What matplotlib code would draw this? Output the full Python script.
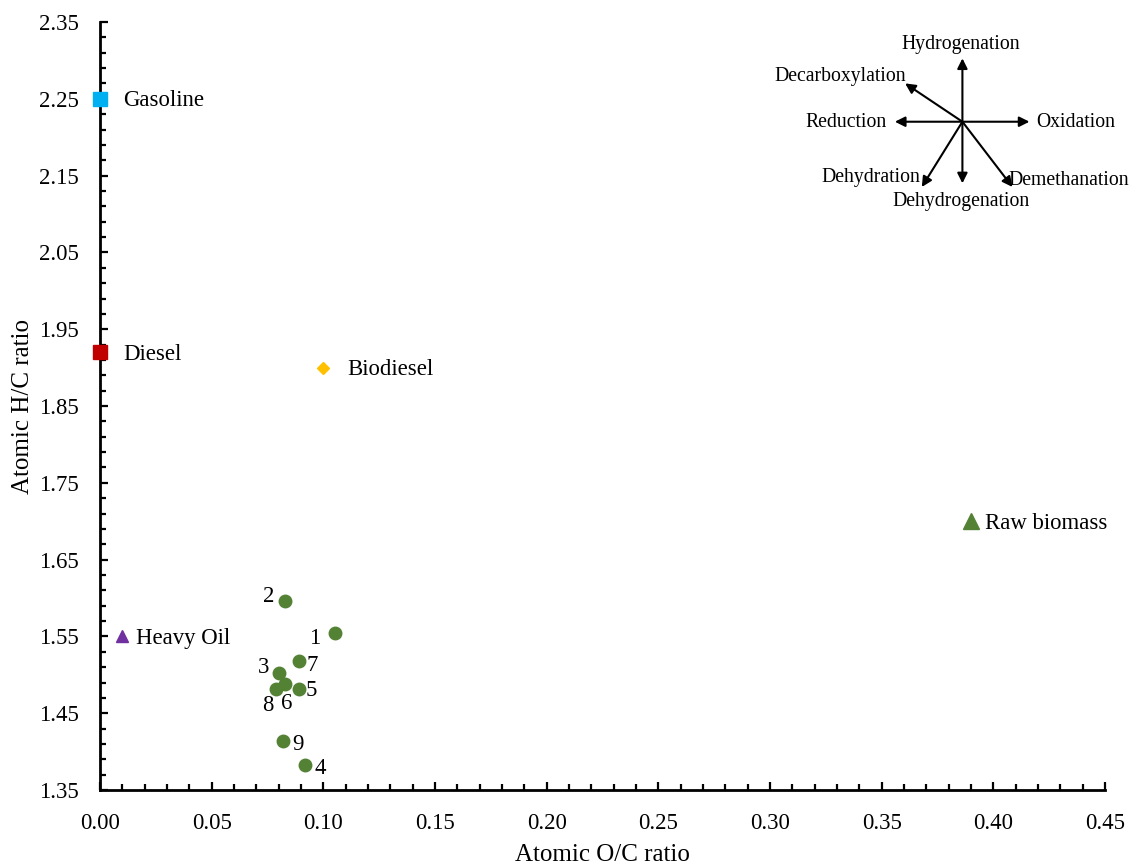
import matplotlib
matplotlib.use("Agg")
import matplotlib.pyplot as plt
from matplotlib.ticker import MultipleLocator, FormatStrFormatter

plt.rcParams['font.family'] = ['Liberation Serif', 'DejaVu Serif']

# Reference fuels
fuel_names = ["Gasoline", "Diesel", "Biodiesel", "Heavy Oil", "Raw biomass"]
fuel_oc = [0.0, 0.0, 0.10, 0.01, 0.39]
fuel_hc = [2.25, 1.92, 1.90, 1.55, 1.70]
fuel_markers = ["s", "s", "D", "^", "^"]
fuel_colors = ["#00B0F0", "#C00000", "#FFC000", "#7030A0", "#548235"]
fuel_sizes = [10, 10, 6, 8, 12]
fuel_label_dx = [17, 17, 17, 10, 10]

# Bio-oil samples 1-9
sample_ids = ["1", "2", "3", "4", "5", "6", "7", "8", "9"]
sample_oc = [0.105, 0.083, 0.080, 0.092, 0.089, 0.083, 0.089, 0.079, 0.082]
sample_hc = [1.555, 1.596, 1.502, 1.382, 1.482, 1.488, 1.518, 1.482, 1.414]
# label centre offsets in points for each sample number
sample_label_offsets = [(-14.4, -4.2), (-12.2, 3.5), (-10.8, 4.5), (10.6, -2.5),
                        (9.1, -1.5), (1, -14.2), (9.9, -2.9), (-6.3, -12.1),
                        (10.6, -2.5)]

fig = plt.figure(figsize=(11.3, 8.64), dpi=100)
ax = fig.add_axes([0.0885, 0.0856, 0.8895, 0.8889])

for name, x, y, m, c, s, dx in zip(fuel_names, fuel_oc, fuel_hc, fuel_markers,
                                   fuel_colors, fuel_sizes, fuel_label_dx):
    ax.plot([x], [y], marker=m, color=c, markersize=s, linestyle="none",
            clip_on=False, zorder=5)
    ax.annotate(name, (x, y), xytext=(dx, -1.5),
                textcoords="offset points", va="center", ha="left",
                fontsize=16.4)

ax.plot(sample_oc, sample_hc, marker="o", color="#548235", markersize=9,
        linestyle="none", zorder=5)
for sid, x, y, (dx, dy) in zip(sample_ids, sample_oc, sample_hc,
                               sample_label_offsets):
    ax.annotate(sid, (x, y), xytext=(dx, dy), textcoords="offset points",
                va="center", ha="center", fontsize=16.4)

ax.set_xlim(0, 0.45)
ax.set_ylim(1.35, 2.35)
ax.xaxis.set_major_locator(MultipleLocator(0.05))
ax.xaxis.set_minor_locator(MultipleLocator(0.01))
ax.yaxis.set_major_locator(MultipleLocator(0.10, offset=0.05))
ax.yaxis.set_minor_locator(MultipleLocator(0.02, offset=0.01))
ax.xaxis.set_major_formatter(FormatStrFormatter("%.2f"))
ax.yaxis.set_major_formatter(FormatStrFormatter("%.2f"))
ax.tick_params(which="both", direction="in", width=1.6, labelsize=16.4)
ax.tick_params(which="major", length=6)
ax.tick_params(which="minor", length=4.5)
ax.tick_params(axis="x", which="both", pad=16.5)
ax.tick_params(axis="y", which="both", pad=15)

for side in ("top", "right"):
    ax.spines[side].set_visible(False)
for side in ("left", "bottom"):
    ax.spines[side].set_linewidth(2)

ax.set_xlabel("Atomic O/C ratio", fontsize=18, labelpad=7)
ax.set_ylabel("Atomic H/C ratio", fontsize=18, labelpad=4)

# Reaction-pathway compass in the upper right
cx, cy = 0.858, 0.8702
arrow_ends = {
    "Hydrogenation": (0.858, 0.9527),
    "Dehydrogenation": (0.858, 0.7900),
    "Reduction": (0.7908, 0.8702),
    "Oxidation": (0.9247, 0.8702),
    "Decarboxylation": (0.8010, 0.9201),
    "Dehydration": (0.8176, 0.7852),
    "Demethanation": (0.9078, 0.7852),
}
label_pos = {
    "Hydrogenation": (0.8567, 0.9701),
    "Dehydrogenation": (0.8567, 0.7669),
    "Reduction": (0.7423, 0.8698),
    "Oxidation": (0.9711, 0.8698),
    "Decarboxylation": (0.7363, 0.9297),
    "Dehydration": (0.7672, 0.7982),
    "Demethanation": (0.9642, 0.7943),
}
for name, end in arrow_ends.items():
    ax.annotate("", xy=end, xytext=(cx, cy), xycoords="axes fraction",
                textcoords="axes fraction",
                arrowprops=dict(arrowstyle="-|>", color="black", lw=1.5,
                                mutation_scale=15, shrinkA=0, shrinkB=0))
    lx, ly = label_pos[name]
    ax.text(lx, ly, name, transform=ax.transAxes, ha="center", va="center",
            fontsize=14.2)

fig.savefig("out.png", dpi=100)
